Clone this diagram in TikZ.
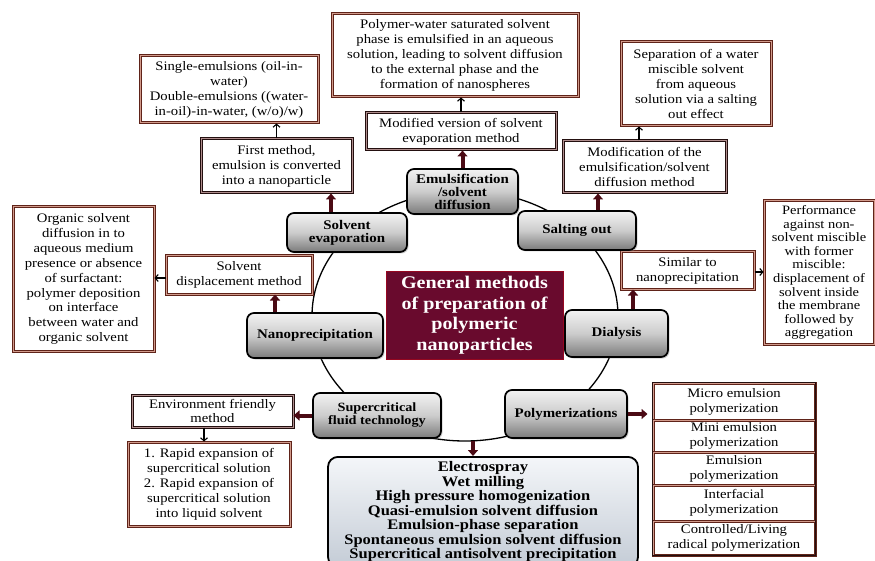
\documentclass[tikz,border=0pt]{standalone}
\usepackage{fontspec}
\setmainfont{Liberation Serif}[FakeStretch=1.13]
\usetikzlibrary{arrows.meta,shadows}
\definecolor{dbrown}{RGB}{95,35,25}
\definecolor{lbrown}{RGB}{210,155,140}
\definecolor{dk}{RGB}{35,15,15}
\definecolor{lk}{RGB}{175,140,140}
\definecolor{titlec}{RGB}{105,10,45}
\definecolor{arrowc}{RGB}{75,10,20}
\definecolor{listtop}{RGB}{244,246,249}
\definecolor{listbot}{RGB}{196,204,214}
\newcommand\dfnt{\fontsize{13}{15}\selectfont}
\newcommand\mfnt{\fontsize{13.2}{13}\selectfont\bfseries}
\tikzset{
  desc/.style={draw=dbrown,double=lbrown,line width=1pt,double distance=1pt,
    fill=white,align=center,inner sep=1pt,font=\dfnt},
  desck/.style={desc,draw=dk,double=lk},
  meth/.style={rounded corners=7pt,draw=black,line width=1.7pt,
    top color=white!95!black,bottom color=black!52,middle color=white!80!black,
    align=center,font=\mfnt,inner sep=2pt,
    drop shadow={opacity=0.35,shadow xshift=1.5pt,shadow yshift=-1.5pt}},
  bigarrow/.style={line width=4pt,draw=arrowc,-{Triangle[width=10pt,length=6pt]}},
  thinarrow/.style={line width=1.1pt,draw=black,-{Straight Barb[length=3pt,width=7pt]}}
}
\begin{document}
\begin{tikzpicture}[x=1pt,y=-1pt]
\useasboundingbox (0,0) rectangle (875,561);
\fill[white] (0,0) rectangle (875,561);
% ring
\draw[line width=1.3pt] (465,316) ellipse [x radius=153pt, y radius=125pt];
\coordinate (ringbot) at (473,441);
% description boxes
\node[desc,minimum width=178pt,minimum height=67pt] (A) at (229,89.5) {Single-emulsions (oil-in-\\water)\\Double-emulsions ((water-\\in-oil)-in-water, (w/o)/w)};
\node[desck,minimum width=151pt,minimum height=54pt] (B) at (276.5,166) {First method,\\emulsion is converted\\into a nanoparticle};
\node[desc,minimum width=246pt,minimum height=83pt] (C) at (455,55.5) {Polymer-water saturated solvent\\phase is emulsified in an aqueous\\solution, leading to solvent diffusion\\to the external phase and the\\formation of nanospheres};
\node[desck,minimum width=190pt,minimum height=37pt] (D) at (461,131.5) {Modified version of solvent\\evaporation method};
\node[desc,minimum width=150pt,minimum height=84pt] (E) at (696,84) {Separation of a water\\miscible solvent\\from aqueous\\solution via a salting\\out effect};
\node[desck,minimum width=163pt,minimum height=52pt] (F) at (644.5,167) {Modification of the\\emulsification/solvent\\diffusion method};
\node[desc,minimum width=141pt,minimum height=144pt,font=\fontsize{13}{14.9}\selectfont] (G) at (83.5,279) {Organic solvent\\diffusion in to\\aqueous medium\\presence or absence\\of surfactant:\\polymer deposition\\on interface\\between water and\\organic solvent};
\node[desc,minimum width=146pt,minimum height=38pt] (H) at (239,275) {Solvent\\displacement method};
\node[desc,minimum width=133pt,minimum height=37pt] (I) at (687.5,270.5) {Similar to\\nanoprecipitation};
\node[desc,minimum width=110pt,minimum height=143pt,font=\fontsize{12.8}{13.6}\selectfont] (J) at (819,272.5) {Performance\\against non-\\solvent miscible\\with former\\miscible:\\displacement of\\solvent inside\\the membrane\\followed by\\aggregation};
\node[desck,minimum width=161pt,minimum height=32pt,font=\fontsize{13}{13.5}\selectfont] (K) at (212.5,411) {Environment friendly\\method};
\node[desc,minimum width=162pt,minimum height=84pt] (L) at (209,484) {1. Rapid expansion of\\supercritical solution\\2. Rapid expansion of\\supercritical solution\\into liquid solvent};
% polymerization stack
\node[desc,minimum width=162pt,minimum height=37pt] (S1) at (734,401.5) {Micro emulsion\\polymerization};
\node[desc,minimum width=162pt,minimum height=32pt] (S2) at (734,436) {Mini emulsion\\polymerization};
\node[desc,minimum width=162pt,minimum height=33pt] (S3) at (734,468.5) {Emulsion\\polymerization};
\node[desc,minimum width=162pt,minimum height=36pt] (S4) at (734,503) {Interfacial\\polymerization};
\node[desc,minimum width=162pt,minimum height=34pt] (S5) at (734,538) {Controlled/Living\\radical polymerization};
\draw[dk,line width=1pt] (S1.north west) rectangle (S5.south east);
% list box
\node[draw=black,line width=1.8pt,rounded corners=10pt,top color=listtop,bottom color=listbot,
  font=\fontsize{14.6}{14.5}\selectfont\bfseries,align=center,minimum width=310pt,minimum height=110pt,
  anchor=north,inner sep=3pt] (M) at (483,456) {Electrospray\\Wet milling\\High pressure homogenization\\Quasi-emulsion solvent diffusion\\Emulsion-phase separation\\Spontaneous emulsion solvent diffusion\\Supercritical antisolvent precipitation};
% method nodes
\node[meth,minimum width=111pt,minimum height=45pt] (Emul) at (462.5,191.5) {Emulsification\\/solvent\\diffusion};
\node[meth,minimum width=120pt,minimum height=39pt] (SolvEvap) at (347,232.5) {Solvent\\evaporation};
\node[meth,minimum width=118pt,minimum height=39pt] (Salt) at (577,230.5) {Salting out};
\node[meth,minimum width=136pt,minimum height=45pt] (Nano) at (315,335.5) {Nanoprecipitation};
\node[meth,minimum width=103pt,minimum height=47pt] (Dial) at (616.5,333.5) {Dialysis};
\node[meth,minimum width=128pt,minimum height=45pt,font=\fontsize{12.6}{13}\selectfont\bfseries] (Super) at (377,415.5) {Supercritical\\fluid technology};
\node[meth,minimum width=122pt,minimum height=48pt] (Poly) at (566,414) {Polymerizations};
% title
\node[fill=titlec,draw=titlec!70!red,line width=0.8pt,text=white,
  font=\fontsize{17.8}{20.5}\selectfont\bfseries,align=center,minimum width=177pt,minimum height=88pt] (T) at (474.5,315)
  {General methods\\of preparation of\\polymeric\\nanoparticles};
% thick arrows
\draw[bigarrow] ([xshift=-16pt]SolvEvap.north) -- ([xshift=-16pt]SolvEvap.north |- B.south);
\draw[bigarrow] (Emul.north) -- (Emul.north |- D.south);
\draw[bigarrow] ([xshift=21pt]Salt.north) -- ([xshift=21pt]Salt.north |- F.south);
\draw[bigarrow] ([xshift=-40pt]Nano.north) -- ([xshift=-40pt]Nano.north |- H.south);
\draw[bigarrow] ([xshift=16.5pt]Dial.north) -- ([xshift=16.5pt]Dial.north |- I.south);
\draw[bigarrow] (Super.west) -- (Super.west -| K.east);
\draw[bigarrow] (Poly.east) -- ([xshift=-5pt]Poly.east -| S1.west);
\draw[bigarrow] (ringbot) -- (ringbot |- M.north);
% thin arrows
\draw[thinarrow] (B.north) -- (B.north |- A.south);
\draw[thinarrow] (D.north) -- (D.north |- C.south);
\draw[thinarrow] ([xshift=-5.5pt]F.north) -- ([xshift=-5.5pt]F.north |- E.south);
\draw[thinarrow] ([yshift=-3pt]H.west) -- ([yshift=-3pt]H.west -| G.east);
\draw[thinarrow] ([yshift=-1.5pt]I.east) -- ([yshift=-1.5pt]I.east -| J.west);
\draw[thinarrow] ([xshift=-8.5pt]K.south) -- ([xshift=-8.5pt]K.south |- L.north);
\end{tikzpicture}
\end{document}
